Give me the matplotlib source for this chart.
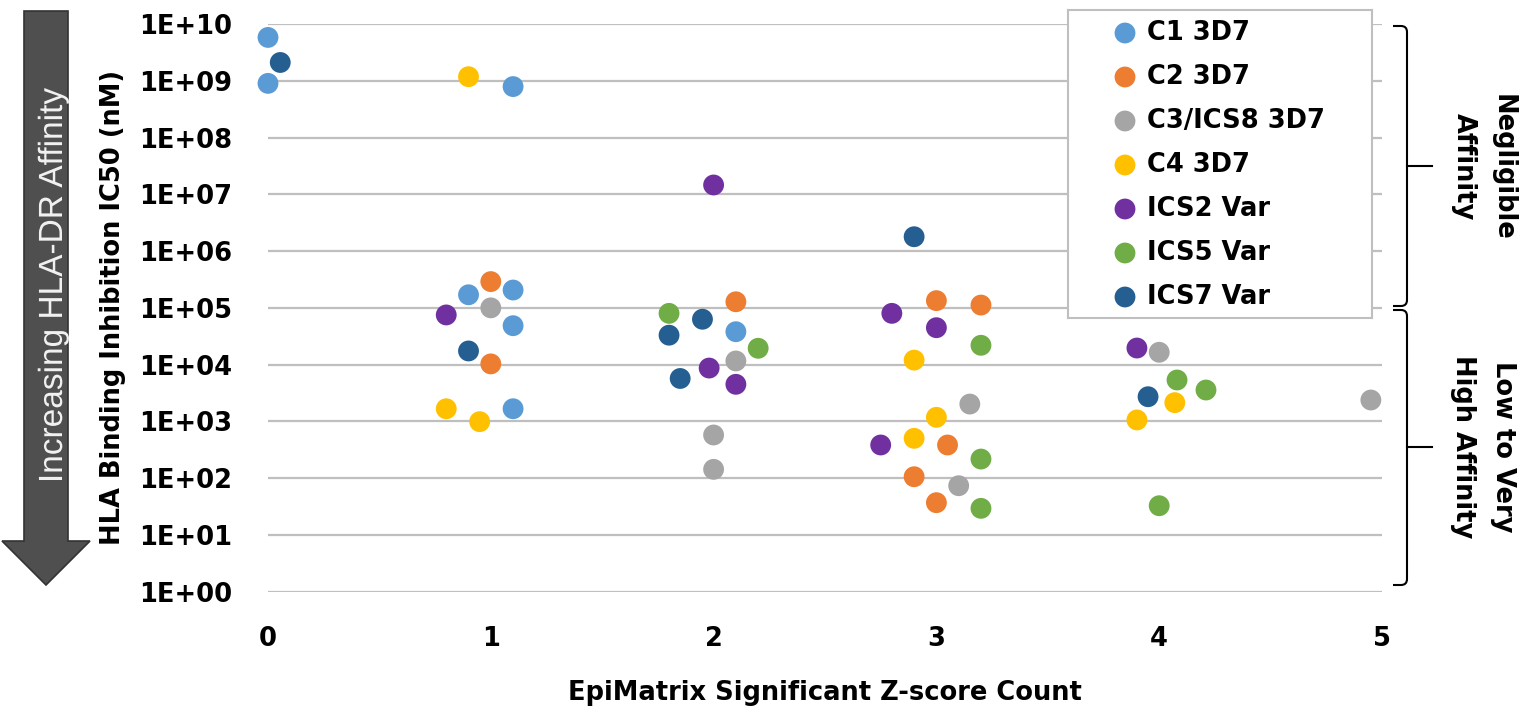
import matplotlib
matplotlib.use("Agg")
import matplotlib.pyplot as plt
from matplotlib import font_manager
from matplotlib.patches import Polygon, PathPatch
from matplotlib.path import Path
from matplotlib.textpath import TextPath
from matplotlib.transforms import Affine2D
import numpy as np

# ---------------- data ----------------
series_names = ["C1 3D7", "C2 3D7", "C3/ICS8 3D7", "C4 3D7", "ICS2 Var", "ICS5 Var", "ICS7 Var"]
series_colors = ["#5B9BD5", "#ED7D31", "#A5A5A5", "#FFC000", "#7030A0", "#70AD47", "#255E91"]

c1_x = [0.0, 0.0, 1.10, 0.90, 1.10, 1.10, 1.10, 2.10]
c1_y = [5.8e9, 9.0e8, 7.9e8, 1.7e5, 2.06e5, 4.85e4, 1.67e3, 3.8e4]

c2_x = [1.00, 1.00, 2.10, 3.00, 3.20, 3.05, 2.90, 3.00]
c2_y = [2.9e5, 1.03e4, 1.28e5, 1.34e5, 1.12e5, 384, 106, 37]

c3_x = [1.00, 2.10, 2.00, 2.00, 3.15, 3.10, 4.00, 4.95]
c3_y = [1.0e5, 1.16e4, 576, 143, 2.02e3, 73.6, 1.65e4, 2.38e3]

c4_x = [0.90, 0.80, 0.95, 2.90, 3.00, 2.90, 3.90, 4.07]
c4_y = [1.18e9, 1.67e3, 989, 1.2e4, 1.18e3, 503, 1.06e3, 2.14e3]

ics2_x = [0.80, 2.00, 1.98, 2.10, 2.80, 3.00, 2.75, 3.90]
ics2_y = [7.5e4, 1.46e7, 8.7e3, 4.5e3, 8.0e4, 4.47e4, 384, 1.96e4]

ics5_x = [1.80, 2.20, 3.20, 3.20, 3.20, 4.08, 4.21, 4.00]
ics5_y = [8.0e4, 1.94e4, 2.19e4, 217, 29.4, 5.36e3, 3.57e3, 32.7]

ics7_x = [0.055, 0.90, 1.95, 1.80, 1.85, 2.90, 3.95]
ics7_y = [2.1e9, 1.74e4, 6.3e4, 3.3e4, 5.7e3, 1.79e6, 2.72e3]

xs = [c1_x, c2_x, c3_x, c4_x, ics2_x, ics5_x, ics7_x]
ys = [c1_y, c2_y, c3_y, c4_y, ics2_y, ics5_y, ics7_y]

x_ticks = [0, 1, 2, 3, 4, 5]
y_exponents = list(range(0, 11))

x_title = "EpiMatrix Significant Z-score Count"
y_title = "HLA Binding Inhibition IC50 (nM)"
arrow_text = "Increasing HLA-DR Affinity"
bracket_labels = ["Negligible\nAffinity", "Low to Very\nHigh Affinity"]

# ---------------- layout helpers ----------------
W, H = 1535, 728
fig = plt.figure(figsize=(W / 100, H / 100), dpi=100)


def fx(px):
    return px / W


def fy(py):
    return 1 - py / H


def has_font(name):
    try:
        font_manager.findfont(font_manager.FontProperties(family=name), fallback_to_default=False)
        return True
    except Exception:
        return False


bold_font = "DejaVu Sans"
arrow_font = "Liberation Sans" if has_font("Liberation Sans") else "DejaVu Sans"
FS = 18.5

ax_left, ax_right, ax_top, ax_bottom = 268, 1382, 24, 591.7
ax = fig.add_axes([fx(ax_left), fy(ax_bottom), fx(ax_right - ax_left), (ax_bottom - ax_top) / H])

for x, y, c, n in zip(xs, ys, series_colors, series_names):
    ax.scatter(x, y, s=225, color=c, edgecolors="none", label=n, clip_on=False, zorder=3)

ax.set_yscale("log")
ax.set_ylim(1, 1e10)
ax.set_xlim(0, 5)
ax.set_yticks([10.0 ** e for e in y_exponents])
ax.set_yticklabels(["1E+%02d" % e for e in y_exponents])
ax.yaxis.set_minor_locator(matplotlib.ticker.NullLocator())
ax.set_xticks(x_ticks)
ax.set_xticklabels([str(t) for t in x_ticks])
ax.tick_params(axis="both", length=0, labelsize=FS)
ax.tick_params(axis="y", pad=26)
ax.tick_params(axis="x", pad=25)
for lab in ax.get_xticklabels() + ax.get_yticklabels():
    lab.set_fontweight("bold")
    lab.set_fontfamily(bold_font)
for sp in ax.spines.values():
    sp.set_visible(False)
ax.grid(axis="y", color="#BFBFBF", linewidth=1.6, zorder=0)
ax.set_axisbelow(True)

# axis titles
fig.text(fx(825), fy(700), x_title, ha="center", va="baseline", fontsize=FS,
         fontweight="bold", family=bold_font)
fig.text(fx(113), fy(307), y_title, ha="center", va="center", rotation=90, fontsize=FS,
         fontweight="bold", family=bold_font)

# big arrow
arrow_pts = [(24, 11), (68, 11), (68, 541), (90, 541), (46, 585), (2, 541), (24, 541)]
fig.add_artist(Polygon([(fx(a), fy(b)) for a, b in arrow_pts], closed=True,
                       transform=fig.transFigure, facecolor="#4F4F4F", edgecolor="#333333",
                       linewidth=1.2))

# arrow text: condensed rendering of a real text path
cap_px = 24.0
em_px = cap_px / 0.716
tp = TextPath((0, 0), arrow_text, size=em_px, prop=font_manager.FontProperties(family=arrow_font))
bb = tp.get_extents()
target_len = 392.0
sx = target_len / bb.width
cx, cy = 50.0, 284.0
tr = (Affine2D().translate(-(bb.x0 + bb.width / 2), -cap_px / 2)
      .scale(sx, 1.0).rotate_deg(90).translate(cx, H - cy))
fig.add_artist(PathPatch(tp, transform=tr, facecolor="#F0F0F0", edgecolor="none"))

# legend (manual box)
lg_l, lg_r, lg_t, lg_b = 1068, 1372, 10, 318
lax = fig.add_axes([fx(lg_l), fy(lg_b), fx(lg_r - lg_l), (lg_b - lg_t) / H])
lax.set_xlim(0, lg_r - lg_l)
lax.set_ylim(lg_b - lg_t, 0)
lax.set_facecolor("white")
for sp in lax.spines.values():
    sp.set_color("#BFBFBF")
    sp.set_linewidth(1.5)
lax.set_xticks([])
lax.set_yticks([])
row0, pitch = 23, 44
for i, (n, c) in enumerate(zip(series_names, series_colors)):
    yy = row0 + i * pitch
    lax.scatter([57], [yy], s=225, color=c, edgecolors="none")
    lax.text(79, yy, n, ha="left", va="center", fontsize=FS, fontweight="bold", family=bold_font)


# brackets
def brace(top, bottom, mid, xv=1407, xh=1393, xm=1432, r=6):
    verts = [(xh, top), (xv - r, top), (xv, top), (xv, top + r),
             (xv, bottom - r), (xv, bottom), (xv - r, bottom), (xh, bottom)]
    codes = [Path.MOVETO, Path.LINETO, Path.CURVE3, Path.CURVE3,
             Path.LINETO, Path.CURVE3, Path.CURVE3, Path.LINETO]
    p = Path([(fx(a), fy(b)) for a, b in verts], codes)
    fig.add_artist(PathPatch(p, transform=fig.transFigure, fill=False, edgecolor="black", linewidth=1.5))
    fig.add_artist(plt.Line2D([fx(xv), fx(xm)], [fy(mid), fy(mid)], transform=fig.transFigure,
                              color="black", linewidth=1.5))


brace(26, 306, 166)
brace(310, 585, 447)

fig.text(fx(1483), fy(167), bracket_labels[0], ha="center", va="center", rotation=-90,
         fontsize=FS, fontweight="bold", family=bold_font, linespacing=1.65, multialignment="center")
fig.text(fx(1483), fy(447), bracket_labels[1], ha="center", va="center", rotation=-90,
         fontsize=FS, fontweight="bold", family=bold_font, linespacing=1.65, multialignment="center")

fig.savefig("out.png", dpi=100)
